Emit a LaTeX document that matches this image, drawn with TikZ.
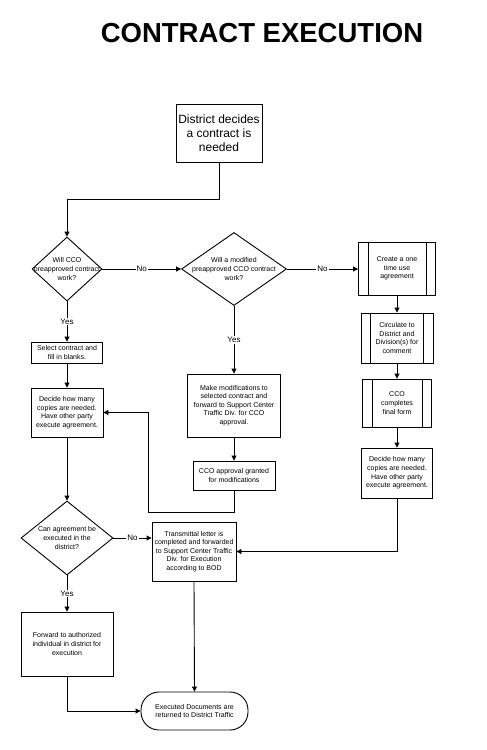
\documentclass[tikz,border=0pt]{standalone}
\usepackage{fontspec}
\setmainfont{Liberation Sans}
\usetikzlibrary{shapes.geometric,arrows.meta}
\tikzset{
    blok/.style={draw,line width=0.9pt,inner sep=1pt,align=center,font=\fontsize{7}{8.6}\selectfont},
    dia/.style={draw,diamond,line width=0.9pt,inner sep=0pt},
    txt/.style={inner sep=0pt,align=center,font=\fontsize{7}{8.6}\selectfont},
    term/.style={blok,rounded corners=18pt},
    lbl/.style={fill=white,inner sep=1pt,font=\fontsize{8}{9}\selectfont},
    pil/.style={line width=0.9pt,-{Triangle[length=5pt,width=5pt]}}
}

\begin{document}
\begin{tikzpicture}[x=1pt,y=-1pt]
        \useasboundingbox (0,0) rectangle (487,750);
        \node [font=\fontsize{27.5}{30}\selectfont\bfseries] (title) at (262,33) {CONTRACT EXECUTION};
        % start
        \node [blok,minimum width=86pt,minimum height=58pt,font=\fontsize{12}{14}\selectfont] (start) at (219,133)
            {District decides\\a contract is\\needed};
        % questions
        \node [dia,minimum width=70pt,minimum height=64pt] (q1) at (67,269) {};
        \node [txt] (q1t) at (q1) {Will CCO\\preapproved contract\\work?};
        \node [dia,minimum width=105pt,minimum height=73pt] (q2) at (234,269) {};
        \node [txt] (q2t) at (q2) {Will a modified\\preapproved CCO contract\\work?};
        \node [dia,minimum width=92pt,minimum height=74pt] (q3) at (67,538) {};
        \node [txt] (q3t) at (q3) {Can agreement be\\executed in the\\district?};
        % left column
        \node [blok,minimum width=71pt,minimum height=21pt] (sel) at (67,352.5) {Select contract and\\fill in blanks.};
        \node [blok,minimum width=72pt,minimum height=49pt] (dec1) at (67,412.5)
            {Decide how many\\copies are needed.\\Have other party\\execute agreement.};
        \node [blok,minimum width=92pt,minimum height=64pt] (fwd) at (67,644)
            {Forward to authorized\\individual in district for\\execution};
        % middle column
        \node [blok,minimum width=93pt,minimum height=63pt] (mod) at (234,405.5)
            {Make modifications to\\selected contract and\\forward to Support Center\\Traffic Div. for CCO\\approval.};
        \node [blok,minimum width=82pt,minimum height=29pt] (grant) at (234,475.5)
            {CCO approval granted\\for modifications};
        \node [blok,minimum width=84pt,minimum height=59pt] (trans) at (194,551.5)
            {Transmittal letter is\\completed and forwarded\\to Support Center Traffic\\Div. for Execution\\according to BOD};
        \node [term,minimum width=107pt,minimum height=38pt] (done) at (194.5,711)
            {Executed Documents are\\returned to District Traffic};
        % right column
        \node [blok,minimum width=77pt,minimum height=53pt] (one) at (397,268.5) {Create a one\\time use\\agreement};
        \node [blok,minimum width=72pt,minimum height=50pt] (circ) at (397,338)
            {Circulate to\\District and\\Division(s) for\\comment};
        \node [blok,minimum width=69pt,minimum height=48pt] (fin) at (397,403) {CCO\\completes\\final form};
        \node [blok,minimum width=71pt,minimum height=50pt] (dec2) at (397,473)
            {Decide how many\\copies are needed.\\Have other party\\execute agreement.};
        \foreach \n in {one,circ,fin} {
            \draw [line width=0.9pt] ([xshift=10pt]\n.north west) -- ([xshift=10pt]\n.south west);
            \draw [line width=0.9pt] ([xshift=-10pt]\n.north east) -- ([xshift=-10pt]\n.south east);
        }
        % connectors
        \draw [pil] (start.south) -- ++(0,37) -| (q1.north);
        \draw [pil] (q1.east) -- node [lbl] (no1) {No} (q2.west);
        \draw [pil] (q2.east) -- node [lbl] (no2) {No} (q2.east -| one.west);
        \draw [pil] (q1.south) -- node [lbl] (yes1) {Yes} (sel.north);
        \draw [pil] (q2.south) -- node [lbl] (yes2) {Yes} (mod.north);
        \draw [pil] (sel.south) -- (dec1.north);
        \draw [pil] (dec1.south) -- (q3.north);
        \draw [pil] (mod.south) -- (grant.north);
        \draw [pil] (grant.south) -- ++(0,22) -| ([xshift=45pt]dec1.east) -- (dec1.east);
        \draw [pil] (one.south) -- (circ.north);
        \draw [pil] (circ.south) -- (fin.north);
        \draw [pil] (fin.south) -- (dec2.north);
        \draw [pil] (dec2.south) |- (trans.east);
        \draw [pil] (q3.east) -- node [lbl] (no3) {No} (q3.east -| trans.west);
        \draw [pil] (q3.south) -- node [lbl] (yes3) {Yes} (fwd.north);
        \draw [pil] (trans.south) -- (done.north);
        \draw [pil] (fwd.south) |- (done.west);
\end{tikzpicture}
\end{document}
